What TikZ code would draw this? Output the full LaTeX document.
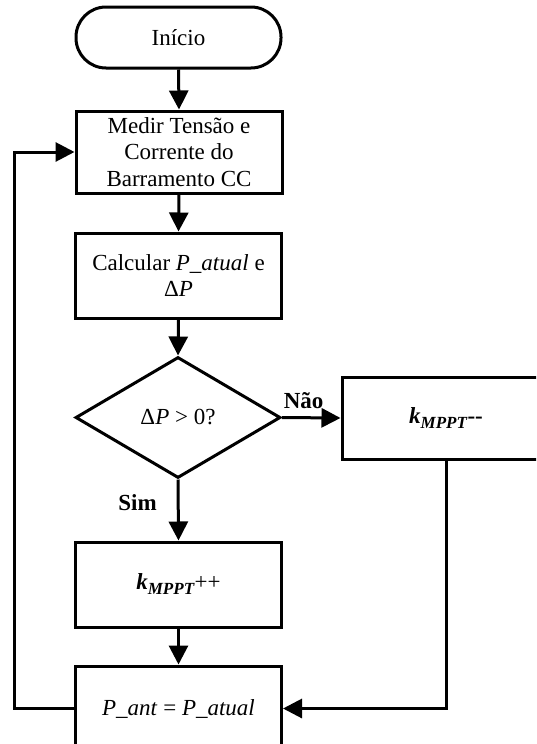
\documentclass[tikz,border=0pt]{standalone}
\usepackage{fontspec}
\setmainfont{Liberation Serif}
\usetikzlibrary{shapes.geometric,arrows.meta}
\newcommand{\kmppt}{\textbf{\textit{k}\raisebox{-5pt}{\fontsize{17}{17}\selectfont\textit{MPPT}}}}
\begin{document}
\begin{tikzpicture}[x=1pt,y=-1pt,
  every node/.style={font=\fontsize{23}{26.5}\selectfont},
  box/.style={draw, line width=3pt, minimum width=206pt, minimum height=84pt, align=center, inner sep=0pt},
  term/.style={draw, line width=3pt, rounded corners=30pt, minimum width=205pt, minimum height=61pt, inner sep=0pt},
  dec/.style={draw, line width=3pt, shape=diamond, aspect=1.69, minimum width=205pt, minimum height=121pt, inner sep=0pt},
  arr/.style={line width=3pt, -{Triangle[length=19pt,width=19pt]}},
  lbl/.style={font=\fontsize{23}{26.5}\selectfont\bfseries, inner sep=0pt}
]
\path[use as bounding box] (0,0) rectangle (536,744);
\clip (0,0) rectangle (536,744);

\node[term] (inicio) at (178.5,37.5) {Início};
\node[box, minimum height=82pt] (medir) at (179,152) {Medir Tensão e\\Corrente do\\Barramento CC};
\node[box, minimum height=85pt] (calc) at (178.5,275.5) {Calcular \textit{P\_atual} e\\Δ\textit{P}};
\node[dec] (dp) at (178,417.5) {Δ\textit{P} > 0?};
\node[box, minimum height=82pt, minimum width=208pt] (nao) at (446,418) {\kmppt\textbf{-{}-}};
\node[box, minimum height=85pt] (kpp) at (178.5,584.5) {\kmppt++};
\node[box, minimum height=85pt] (pant) at (178.5,708.5) {\textit{P\_ant} = \textit{P\_atual}};

\draw[arr] (inicio.south) -- (medir.north);
\draw[arr] (medir.south) -- (calc.north);
\draw[arr] (calc.south) -- (dp.north);
\draw[arr] (dp.east) -- node[lbl, above=7pt, pos=0.37]{Não} (nao.west);
\draw[arr] (dp.south) -- node[lbl, left=20pt, pos=0.38]{Sim} (kpp.north);
\draw[arr] (kpp.south) -- (pant.north);
\draw[arr] (nao.south) |- (pant.east);
\coordinate (lx) at (14,0);
\draw[arr] (pant.west) -- (lx |- pant.west) |- (medir.west);
\end{tikzpicture}
\end{document}
